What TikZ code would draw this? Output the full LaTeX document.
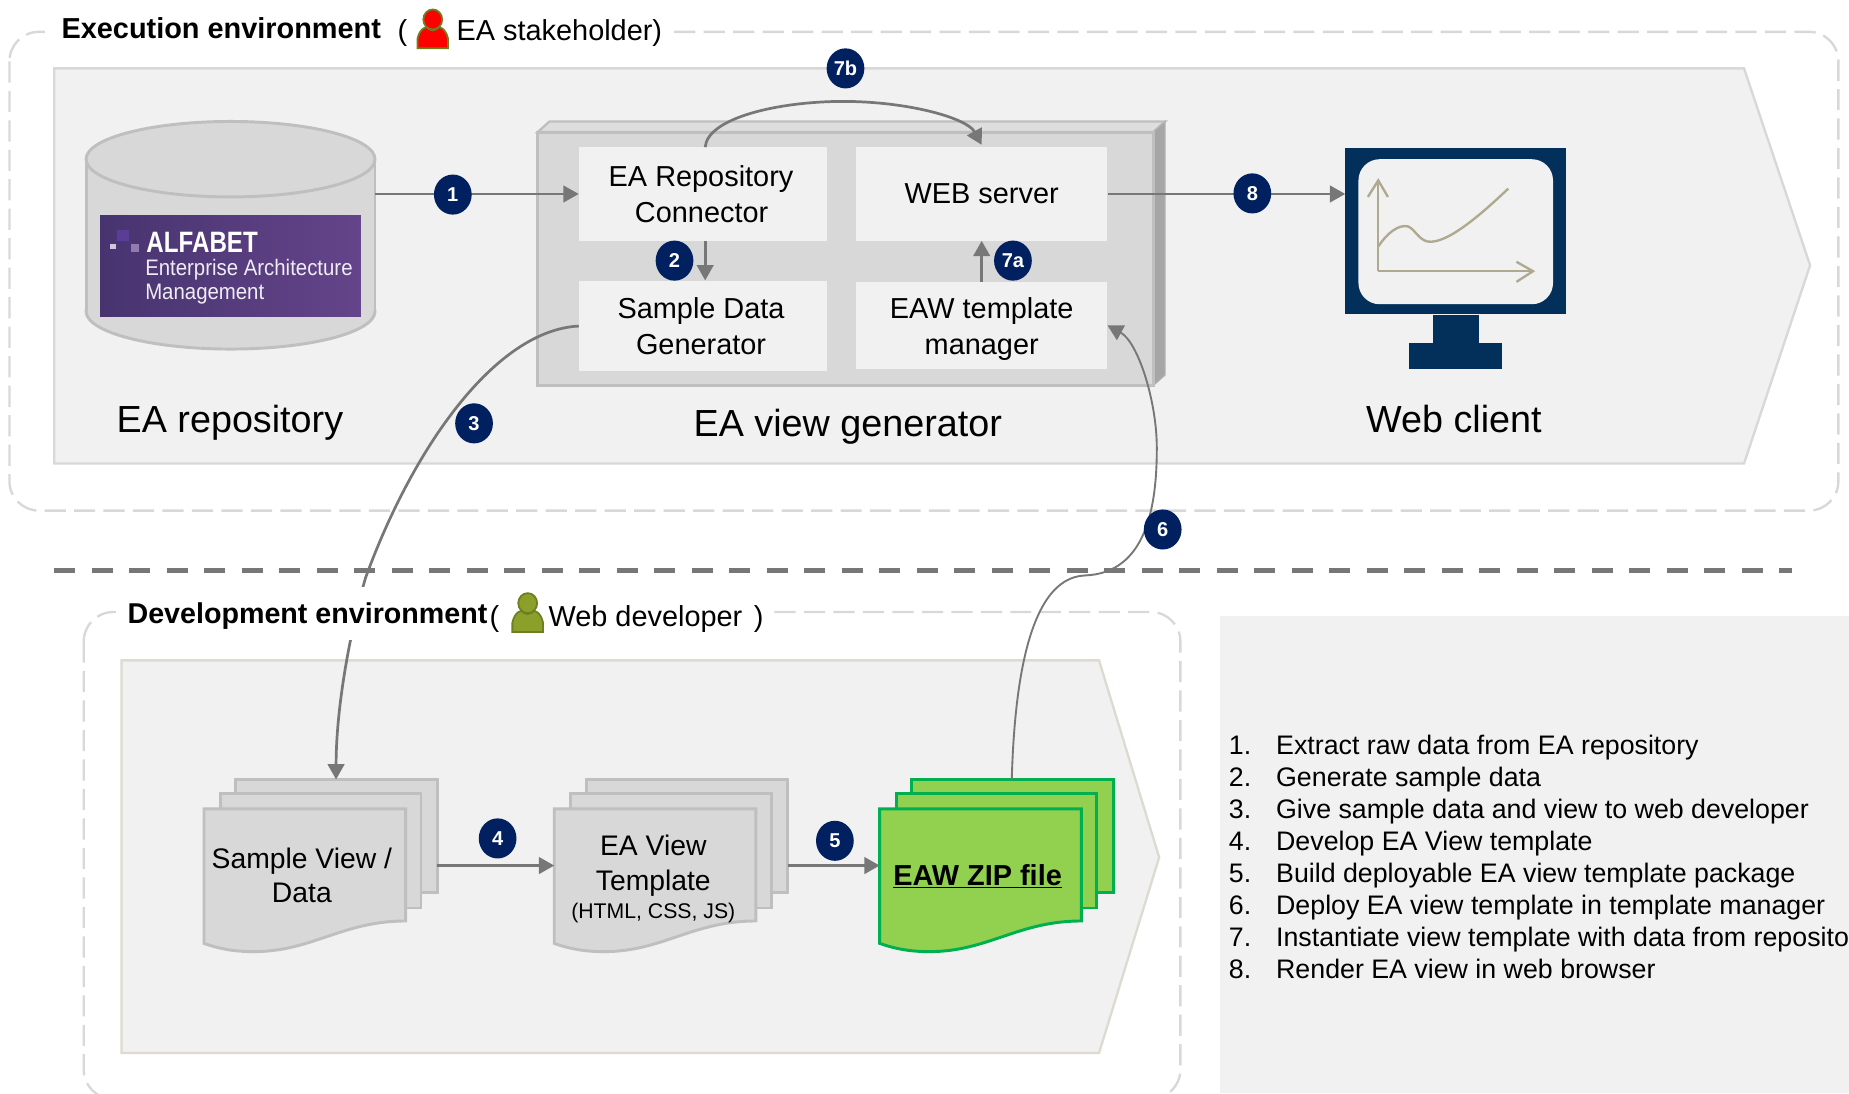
\documentclass[tikz,border=0pt]{standalone}
\usepackage{fontspec}
\setmainfont{Liberation Sans}
\usetikzlibrary{arrows.meta,shapes.geometric}

\definecolor{panel}{HTML}{F1F1F1}
\definecolor{box}{HTML}{D8D8D8}
\definecolor{edge}{HTML}{BFBFBF}
\definecolor{devedge}{HTML}{DDDBD0}
\definecolor{flowgrey}{HTML}{777777}
\definecolor{navy}{HTML}{002060}
\definecolor{screen}{HTML}{03305A}
\definecolor{chart}{HTML}{AFA98F}
\definecolor{zipfill}{HTML}{92D050}
\definecolor{zipedge}{HTML}{00B050}
\definecolor{purpleleft}{HTML}{47346F}
\definecolor{purpleright}{HTML}{64448A}
\definecolor{stakered}{HTML}{FF0000}
\definecolor{stakeedge}{HTML}{6F7F20}
\definecolor{devgreen}{HTML}{8B9F2B}

\tikzset{
  dashbox/.style={draw=box,line width=2pt,rounded corners=25pt,dash pattern=on 18pt off 7pt},
  chevbox/.style={fill=panel,line width=2pt},
  compbox/.style={fill=panel,inner sep=0pt,align=center,font=\fontsize{24.5}{30}\selectfont},
  badge/.style={ellipse,fill=navy,text=white,inner sep=0pt,minimum width=32pt,minimum height=34pt,font=\fontsize{17}{20}\selectfont\bfseries},
  flow/.style={draw=flowgrey,line width=2.3pt,-{Triangle[length=13pt,width=14pt]}},
  bigtext/.style={font=\fontsize{32}{36}\selectfont,inner sep=0pt},
  midtext/.style={font=\fontsize{24.5}{30}\selectfont,inner sep=0pt,align=center}
}

\newcommand{\docstack}[4]{
  \begin{scope}[shift={(#1,0)}]
    \draw[fill=#3,draw=#4,line width=2.5pt] (200,661) rectangle (371,757);
    \draw[fill=#3,draw=#4,line width=2.5pt] (187,673) rectangle (357,770);
    \draw[fill=#3,draw=#4,line width=2.5pt] (173,686) -- (344,686) -- (344,781)
      .. controls (290,781) and (265,807) .. (215,807)
      .. controls (200,807) and (187,805) .. (173,800) -- cycle;
    \coordinate (#2in) at (173,734);
    \coordinate (#2out) at (371,734);
    \coordinate (#2top) at (285,661);
  \end{scope}
}

\newcommand{\personicon}[4]{
  \begin{scope}[shift={(#1,#2)}]
    \draw[fill=#3,draw=#4,line width=1.5pt] (-13,33) -- (-13,25) .. controls (-11,16) and (-6,14) .. (0,14)
      .. controls (6,14) and (11,16) .. (13,25) -- (13,33) -- cycle;
    \draw[draw=#4,line width=1.5pt] (-6,14) .. controls (-3,19) and (3,19) .. (6,14);
    \draw[fill=#3,draw=#4,line width=1.5pt] (0,8.5) ellipse [x radius=8pt,y radius=8.5pt];
  \end{scope}
}

\begin{document}
\begin{tikzpicture}[x=1pt,y=-1pt]
\useasboundingbox (0,0) rectangle (1568,927);

\draw[dashbox] (8,27) rectangle (1559,433);
\draw[chevbox,draw=box] (46,58) -- (1479,58) -- (1535,225) -- (1479,393) -- (46,393) -- cycle;

\fill[white] (38,6) rectangle (570,46);
\node[anchor=base west,inner sep=0pt,font=\fontsize{24.5}{30}\selectfont\bfseries] (exectitle) at (52,33) {Execution environment};
\node[anchor=base west,midtext] (execparen) at (337,34) {(};
\personicon{367}{8}{stakered}{stakeedge}
\node[anchor=base west,midtext] (execrole) at (387,34) {EA stakeholder)};

\draw[fill=box,draw=edge,line width=2.5pt] (195.5,264) ellipse [x radius=122.5pt,y radius=32pt];
\fill[box] (73,135) rectangle (318,264);
\draw[edge,line width=2.5pt] (73,135) -- (73,264) (318,135) -- (318,264);
\draw[fill=box,draw=edge,line width=2.5pt] (195.5,135) ellipse [x radius=122.5pt,y radius=32pt];
\coordinate (repoout) at (318,164.5);

\fill[left color=purpleleft,right color=purpleright] (85,183) rectangle (306,268);
\fill[purpleright!90!blue] (99,195) rectangle (109,204);
\fill[purpleright!30!white] (93,207) rectangle (98,211);
\fill[purpleright!70!white] (111,207) rectangle (118,214);
\node[anchor=base west,inner sep=0pt,text=white,xscale=.82,font=\fontsize{25}{28}\selectfont\bfseries] (alfabet) at (124,214) {ALFABET};
\node[anchor=base west,inner sep=0pt,text=white!90!purpleright,xscale=.91,font=\fontsize{19}{22}\selectfont] (alfaline1) at (123,234) {Enterprise Architecture};
\node[anchor=base west,inner sep=0pt,text=white!90!purpleright,xscale=.91,font=\fontsize{19}{22}\selectfont] (alfaline2) at (123,254) {Management};

\node[bigtext] (repolabel) at (195,358.5) {EA repository};

\fill[box!85!white,draw=edge,line width=2pt] (456,112) -- (466,103) -- (988,103) -- (978,112) -- cycle;
\fill[black!35,draw=black!30,line width=1pt] (978,112) -- (988,103) -- (988,318) -- (978,327) -- cycle;
\draw[fill=box,draw=edge,line width=2.5pt] (456,112) rectangle (978,327);

\node[compbox,minimum width=210pt,minimum height=79pt] (conn) at (596,164.5) {EA Repository\hspace*{3pt}\\Connector\hspace*{2pt}};
\node[compbox,minimum width=213pt,minimum height=79pt] (web) at (832.5,164.5) {WEB server};
\node[compbox,minimum width=210pt,minimum height=77pt] (sample) at (596,276.5) {Sample Data\hspace*{3pt}\\Generator\hspace*{3pt}};
\node[compbox,minimum width=213pt,minimum height=74pt] (eaw) at (832.5,276) {\rule{0pt}{24pt}EAW template\\manager};

\node[bigtext] (genlabel) at (719,362) {EA view generator};

\node[draw=screen,fill=screen,minimum width=186pt,minimum height=140pt,inner sep=0pt] (monitor) at (1234,196) {};
\fill[screen] (1215,267) rectangle (1254,291);
\draw[fill=screen,draw=screen,line width=1pt] (1195,291) rectangle (1273,312);
\fill[panel,rounded corners=18pt] (1152,135) rectangle (1317,258);
\draw[chart,line width=2pt] (1168.8,230) -- (1168.8,153);
\draw[chart,line width=2pt] (1160,167) -- (1168.8,153) -- (1177,167);
\draw[chart,line width=2pt] (1168.8,230) -- (1300,230);
\draw[chart,line width=2pt] (1286,222) -- (1300,230) -- (1286,239);
\draw[chart,line width=2pt] (1168.8,209) .. controls (1176,198) and (1186,190) .. (1194,192)
  .. controls (1200,194) and (1204,206) .. (1214,205)
  .. controls (1232,204) and (1262,176) .. (1279,160);

\node[bigtext] (clientlabel) at (1233,355) {Web client};

\draw[flow] (repoout) -- (conn.west);
\draw[flow] ([xshift=2pt]conn.south) -- ([xshift=2pt]sample.north);
\draw[flow] (eaw.north) -- (web.south);
\draw[flow] (web.east) -- (web.east -| monitor.west);
\draw[flow] ([xshift=2pt]conn.north) .. controls (600,100) and (660,86) .. (715,86)
  .. controls (770,86) and (820,100) .. ([yshift=2pt]web.north);

\draw[dashbox] (71,519) rectangle (1001,932);
\draw[chevbox,draw=devedge] (103,560) -- (932,560) -- (983,727) -- (932,893) -- (103,893) -- cycle;

\draw[draw=flowgrey,line width=4pt,dash pattern=on 18pt off 13.8pt] (46,484) -- (1520,484);

\docstack{0}{sampledoc}{box}{edge}
\docstack{297}{templatedoc}{box}{edge}
\docstack{573}{zipdoc}{zipfill}{zipedge}

\draw[flow] (sample.west) .. controls (420,280) and (350,380) .. (310,490)
  .. controls (297,535) and (285,600) .. (sampledoctop);
\draw[flow,line width=1.6pt,-] (zipdoctop) .. controls (860,590) and (870,490) .. (920,488)
  .. controls (972,486) and (981,430) .. (981,380);
\draw[flow,line width=1.6pt] (981,380) .. controls (981,340) and (965,290) .. (eaw.east);

\fill[white] (98,498) rectangle (655,543);
\node[anchor=base west,inner sep=0pt,font=\fontsize{24.3}{30}\selectfont\bfseries] (devtitle) at (108,529) {Development environment};
\node[anchor=base west,midtext] (devparen) at (415,531) {(};
\personicon{447.5}{503}{devgreen}{stakeedge}
\node[anchor=base west,midtext] (devrole) at (465,531) {Web developer};
\node[anchor=base west,midtext] (devclose) at (639,531) {)};

\node[midtext,font=\fontsize{24}{29}\selectfont] (sampletext) at (256,742) {Sample View /\\Data};
\node[midtext,font=\fontsize{24}{30}\selectfont] (templatetext) at (554,734) {EA View\\Template};
\node[inner sep=0pt,font=\fontsize{18}{20}\selectfont] (templatesub) at (554,774) {(HTML, CSS, JS)};
\node[inner sep=0pt,font=\fontsize{24.5}{30}\selectfont\bfseries] (ziptext) at (829,743) {\underline{EAW ZIP file}};

\draw[flow] (sampledocout) -- (templatedocin);
\draw[flow] (templatedocout) -- (zipdocin);

\node[badge] (b1) at (384,165) {1};
\node[badge] (b2) at (572,221) {2};
\node[badge] (b3) at (402,359) {3};
\node[badge] (b4) at (422,711) {4};
\node[badge] (b5) at (708,713) {5};
\node[badge] (b6) at (986,449) {6};
\node[badge] (b7a) at (859,221) {7a};
\node[badge] (b7b) at (717,58) {7b};
\node[badge] (b8) at (1062,164) {8};

\fill[panel] (1035,522) rectangle (1568,927);
\foreach \n/\txt in {1/Extract raw data from EA repository,
  2/Generate sample data,
  3/Give sample data and view to web developer,
  4/Develop EA View template,
  5/Build deployable EA view template package,
  6/Deploy EA view template in template manager,
  7/Instantiate view template with data from reposito,
  8/Render EA view in web browser}
{
  \node[anchor=base west,inner sep=0pt,font=\fontsize{22.7}{26}\selectfont] (num\n) at (1042,{640+27.15*(\n-1)}) {\n.};
  \node[anchor=base west,inner sep=0pt,font=\fontsize{22.7}{26}\selectfont] (step\n) at (1082,{640+27.15*(\n-1)}) {\txt};
}
\end{tikzpicture}
\end{document}
